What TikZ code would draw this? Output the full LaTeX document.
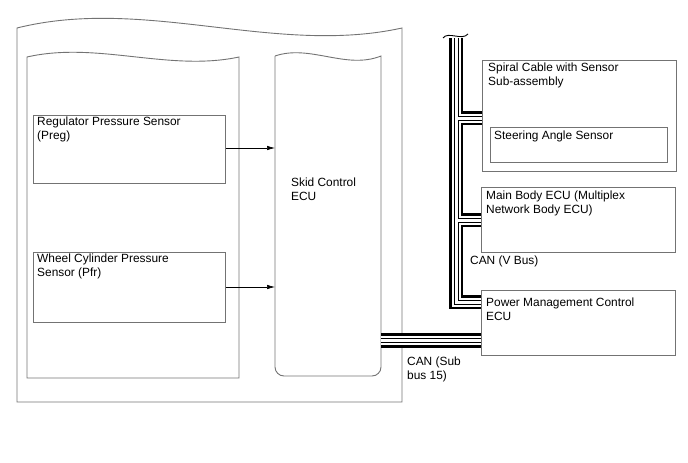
\documentclass[tikz,border=0pt]{standalone}
\usepackage{fontspec}
\setmainfont{Liberation Sans}
\usetikzlibrary{arrows.meta}
\begin{document}
\begin{tikzpicture}[x=1pt,y=-1pt,
  frame/.style={draw=black!55,line width=0.9pt},
  box/.style={draw=black!55,line width=0.9pt,inner sep=0pt,anchor=north west},
  txt/.style={inner sep=0pt,anchor=north west,align=left,font=\fontsize{11.9}{14}\selectfont},
  sig/.style={draw=black,line width=0.7pt,-{Latex[length=8pt,width=4.5pt]}}]
\useasboundingbox (0,0) rectangle (688,463);
% outer frame
\draw[frame] (17,28) .. controls (145,-4) and (275,56) .. (402,28) -- (402,402) -- (17,402) -- cycle;
% inner left panel
\draw[frame] (27,57) .. controls (97,41) and (169,72) .. (239,57) -- (239,378) -- (27,378) -- cycle;
% skid control ecu panel
\draw[frame,rounded corners=9pt] (275,56) [sharp corners] .. controls (310,44) and (346,70) .. (381,56) [rounded corners=9pt] -- (381,376) -- (275,376) -- (275,56);
\coordinate (ecuW) at (275,0);
\coordinate (ecuE) at (381,0);
\node[txt] (ecutxt) at (291,178) {Skid Control\\ECU};
% sensor boxes
\node[box,minimum width=192pt,minimum height=68pt] (reg) at (33,115) {};
\node[txt] (regtxt) at (37,117) {Regulator Pressure Sensor\\(Preg)};
\node[box,minimum width=192pt,minimum height=70pt] (whl) at (33,252) {};
\node[txt] (whltxt) at (37,254) {Wheel Cylinder Pressure\\Sensor (Pfr)};
\draw[sig] (reg.east |- 0,148) -- (ecuW |- 0,148);
\draw[sig] (whl.east |- 0,287) -- (ecuW |- 0,287);
% right boxes
\node[box,minimum width=194pt,minimum height=111pt] (spiral) at (482,60) {};
\node[txt] (spiraltxt) at (488,63) {Spiral Cable with Sensor\\Sub-assembly};
\node[box,minimum width=177pt,minimum height=35pt] (steer) at (490,127) {};
\node[txt] (steertxt) at (494,131) {Steering Angle Sensor};
\node[box,minimum width=194pt,minimum height=65pt] (mb) at (481,187) {};
\node[txt] (mbtxt) at (486,191) {Main Body ECU (Multiplex\\Network Body ECU)};
\node[box,minimum width=194pt,minimum height=65pt] (pm) at (481,290) {};
\node[txt] (pmtxt) at (486,298) {Power Management Control\\ECU};
% bus labels
\node[txt] (vbus) at (470,256) {CAN (V Bus)};
\node[txt] (subbus) at (407,357) {CAN (Sub\\bus 15)};
% CAN bus cables
\coordinate (trunktop) at (456,38);
\coordinate (corner) at (456,302);
\foreach \w/\c in {14.5/black,9/white,5/black,3/white}{
  \draw[line width=\w pt,draw=\c,line cap=butt,line join=miter]
    (trunktop) -- (corner) -- (pm.west |- corner);
  \draw[line width=\w pt,draw=\c,line cap=butt]
    (456,118) -- (spiral.west |- 0,118);
  \draw[line width=\w pt,draw=\c,line cap=butt]
    (456,220) -- (mb.west |- 0,220);
  \draw[line width=\w pt,draw=\c,line cap=butt]
    (ecuE |- 0,340.5) -- (pm.west |- 0,340.5);
}
% break symbol at top of trunk
\draw[black,line width=0.9pt] (443,38) .. controls (448,31) and (462,41) .. (468,34);
\end{tikzpicture}
\end{document}
